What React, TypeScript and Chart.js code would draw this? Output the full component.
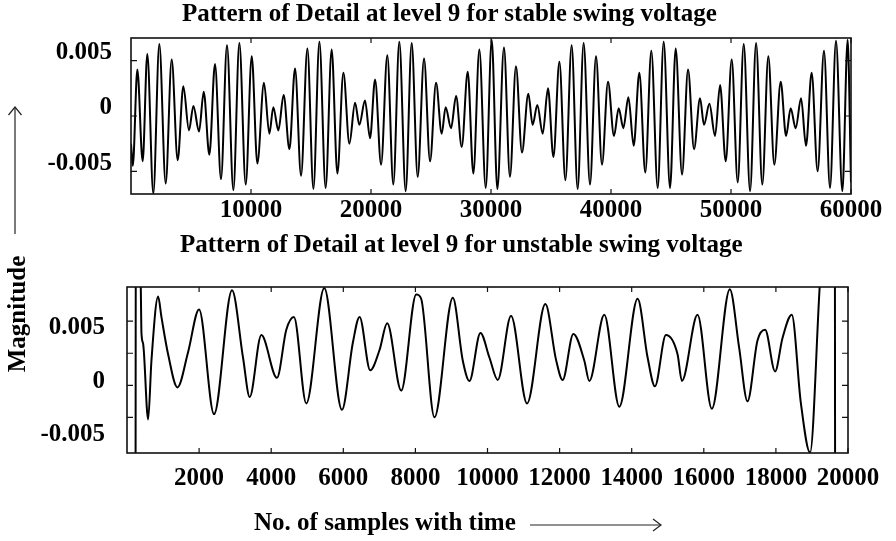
import React, { useEffect, useRef } from "react";
import { Chart, registerables } from "chart.js";

Chart.register(...registerables);

const FONT_FAMILY = '"Liberation Serif", "Times New Roman", Times, serif';

// ---- Stable swing voltage (detail level 9) ----
const stableSamples = [
  0, 150, 530, 970, 1360, 1860, 2360, 2890,
  3390, 3890, 4360, 4830, 5200, 5670, 6060, 6530,
  7000, 7500, 8000, 8530, 9030, 9560, 10060, 10530,
  11080, 11530, 11860, 12280, 12720, 13200, 13670, 14170,
  14700, 15200, 15700, 16220, 16720, 17200, 17700, 18200,
  18670, 19030, 19500, 19920, 20340, 20840, 21360, 21860,
  22360, 22890, 23390, 23890, 24420, 24920, 25420, 25890,
  26220, 26670, 27090, 27560, 28060, 28530, 29030, 29560,
  30060, 30530, 31080, 31580, 32080, 32580, 33110, 33470,
  33860, 34310, 34750, 35200, 35700, 36200, 36720, 37220,
  37720, 38250, 38750, 39250, 39750, 40250, 40640, 41030,
  41450, 41890, 42360, 42860, 43360, 43890, 44390, 44920,
  45390, 45920, 46420, 46920, 47420, 47750, 48200, 48670,
  49090, 49560, 50060, 50560, 51060, 51590, 52090, 52610,
  53110, 53610, 54140, 54590, 54970, 55390, 55840, 56250,
  56720, 57220, 57750, 58250, 58750, 59280, 59720, 60000,
];
const stableValues = [
  -0.0025, -0.0045, 0.0042, -0.0041, 0.0056, -0.007, 0.0065, -0.0061,
  0.0051, -0.004, 0.0027, -0.0013, 0.0009, -0.0014, 0.0022, -0.0035,
  0.0047, -0.0057, 0.0064, -0.0067, 0.0066, -0.0062, 0.0054, -0.0043,
  0.003, -0.0016, 0.0008, -0.0013, 0.0019, -0.003, 0.0043, -0.0054,
  0.0061, -0.0066, 0.0067, -0.0065, 0.006, -0.0052, 0.0039, -0.0025,
  0.0012, -0.0008, 0.0014, -0.002, 0.0033, -0.0044, 0.0055, -0.0062,
  0.0067, -0.0068, 0.0066, -0.0055, 0.0052, -0.0041, 0.003, -0.0016,
  0.0008, -0.0011, 0.0018, -0.0028, 0.004, -0.0052, 0.006, -0.0065,
  0.0069, -0.0066, 0.0062, -0.0055, 0.0045, -0.0033, 0.002, -0.0008,
  0.001, -0.0016, 0.0025, -0.0037, 0.0049, -0.0058, 0.0064, -0.0066,
  0.0066, -0.0062, 0.0054, -0.0044, 0.0031, -0.0018, 0.0007, -0.0011,
  0.0017, -0.0027, 0.0039, -0.0051, 0.0059, -0.0065, 0.0067, -0.0065,
  0.0061, -0.0053, 0.0042, -0.003, 0.0016, -0.0008, 0.0011, -0.0018,
  0.0028, -0.0041, 0.0051, -0.006, 0.0065, -0.0068, 0.0066, -0.0062,
  0.0054, -0.0044, 0.0031, -0.0018, 0.0007, -0.0011, 0.0016, -0.0027,
  0.0039, -0.005, 0.0059, -0.0065, 0.0068, -0.0068, 0.0069, -0.006,
];

// ---- Unstable swing voltage (detail level 9) ----
const unstableSamples = [
  0, 230, 250, 382, 401, 447, 586, 678, 863,
  955, 1140, 1399, 1694, 1999, 2415, 2913, 3218,
  3403, 3726, 4160, 4419, 4631, 4973, 5472, 5962,
  6266, 6451, 6747, 7005, 7218, 7606, 8022, 8160,
  8529, 9038, 9315, 9499, 9804, 10053, 10284, 10653,
  11097, 11605, 11900, 12085, 12381, 12686, 12824, 13240,
  13656, 14164, 14441, 14644, 14949, 15272, 15392, 15826,
  16223, 16722, 16981, 17212, 17489, 17701, 17978, 18182,
  18440, 18690, 18948, 19216, 19630, 19650, 20000,
];
const unstableValues = [
  -0.03, -0.03, 0.03, 0.0093, 0.0049, 0.0039, -0.0032, 0.0023, 0.0083,
  0.0064, 0.0029, -0.0002, 0.0031, 0.0071, -0.0027, 0.0089, 0.0026,
  -0.0011, 0.0047, 0.0007, 0.0052, 0.0064, -0.0017, 0.0091, -0.0023,
  0.004, 0.0064, 0.0014, 0.0033, 0.0058, -0.0005, 0.0085, 0.0081,
  -0.003, 0.0082, 0.0023, 0.0004, 0.0049, 0.0026, 0.0005, 0.0065,
  -0.0017, 0.0076, 0.0024, 0.0005, 0.0048, 0.0023, 0.0004, 0.0066,
  -0.002, 0.0081, 0.0026, -0.0001, 0.0047, 0.0029, 0.0004, 0.0066,
  -0.0022, 0.009, 0.0035, -0.0015, 0.0042, 0.0052, 0.0013, 0.0044,
  0.0066, -0.0016, -0.0063, 0.0093, 0.03, -0.03, -0.03,
];

// ---- Tick labels / marks ----
const stableXTicks = [10000, 20000, 30000, 40000, 50000, 60000];
const unstableXTicks = [2000, 4000, 6000, 8000, 10000, 12000, 14000, 16000, 18000, 20000];
const yTickLabels = [-0.005, 0, 0.005];
const stableYMarks = [-0.005, 0, 0.005];
const unstableYMarks = [-0.003, 0, 0.003, 0.006];

const titles = {
  stable: "Pattern of Detail at level 9 for stable swing voltage",
  unstable: "Pattern of Detail at level 9 for unstable swing voltage",
  yAxis: "Magnitude",
  xAxis: "No. of samples with time",
};

function framePlugin(xMarks: number[], yMarks: number[]) {
  return {
    id: "frameTicks",
    afterDatasetsDraw(chart: any) {
      const { ctx, chartArea: a } = chart;
      const sx = chart.scales.x;
      const sy = chart.scales.y;
      ctx.save();
      ctx.strokeStyle = "#111";
      ctx.lineWidth = 1.6;
      ctx.strokeRect(a.left, a.top, a.right - a.left, a.bottom - a.top);
      ctx.lineWidth = 1.2;
      ctx.beginPath();
      for (const v of xMarks) {
        const p = sx.getPixelForValue(v);
        ctx.moveTo(p, a.bottom);
        ctx.lineTo(p, a.bottom - 5);
        ctx.moveTo(p, a.top);
        ctx.lineTo(p, a.top + 5);
      }
      for (const v of yMarks) {
        const p = sy.getPixelForValue(v);
        ctx.moveTo(a.left, p);
        ctx.lineTo(a.left + 6, p);
        ctx.moveTo(a.right, p);
        ctx.lineTo(a.right - 6, p);
      }
      ctx.stroke();
      ctx.restore();
    },
  };
}

type ChartProps = {
  samples: number[];
  values: number[];
  xMin: number;
  xMax: number;
  yMin: number;
  yMax: number;
  xTicks: number[];
  xMarks: number[];
  yMarks: number[];
  top: number;
  width: number;
  height: number;
  padTop: number;
  padRight: number;
  yAxisWidth: number;
  xAxisHeight: number;
  xLabelPad: number;
  yLabelPad: number;
  yLabelOffset: number;
  xLabelOffset: number;
};

function SignalChart(p: ChartProps) {
  const ref = useRef<HTMLCanvasElement | null>(null);
  useEffect(() => {
    if (!ref.current) return;
    const tickFont = { family: FONT_FAMILY, size: 25, weight: "bold" as const };
    const chart = new Chart(ref.current, {
      type: "line",
      data: {
        datasets: [
          {
            data: p.samples.map((s, i) => ({ x: s, y: p.values[i] })),
            borderColor: "#000",
            borderWidth: 2,
            pointRadius: 0,
            cubicInterpolationMode: "monotone",
            fill: false,
          } as any,
        ],
      },
      options: {
        responsive: false,
        animation: false,
        devicePixelRatio: 1,
        layout: { padding: { top: p.padTop, right: p.padRight, left: 0, bottom: 0 } },
        plugins: {
          legend: { display: false },
          tooltip: { enabled: false },
          title: { display: false },
        },
        scales: {
          x: {
            type: "linear",
            min: p.xMin,
            max: p.xMax,
            grid: { display: false, drawTicks: false },
            border: { display: false },
            afterBuildTicks: (axis: any) => {
              axis.ticks = p.xTicks.map((v) => ({ value: v }));
            },
            afterFit: (axis: any) => {
              axis.height = p.xAxisHeight;
            },
            ticks: {
              autoSkip: false,
              maxRotation: 0,
              minRotation: 0,
              padding: p.xLabelPad,
              labelOffset: p.xLabelOffset,
              color: "#000",
              font: tickFont,
              callback: (v: any) => String(v),
            },
          },
          y: {
            type: "linear",
            min: p.yMin,
            max: p.yMax,
            grid: { display: false, drawTicks: false },
            border: { display: false },
            afterBuildTicks: (axis: any) => {
              axis.ticks = yTickLabels.map((v) => ({ value: v }));
            },
            afterFit: (axis: any) => {
              axis.width = p.yAxisWidth;
            },
            ticks: {
              autoSkip: false,
              padding: p.yLabelPad,
              labelOffset: p.yLabelOffset,
              color: "#000",
              font: tickFont,
              callback: (v: any) => String(v),
            },
          },
        },
      } as any,
      plugins: [framePlugin(p.xMarks, p.yMarks)],
    });
    return () => chart.destroy();
  }, []);
  return (
    <canvas
      ref={ref}
      width={p.width}
      height={p.height}
      style={{ position: "absolute", left: 0, top: p.top, width: p.width, height: p.height }}
    />
  );
}

export default function App() {
  const textBase: React.CSSProperties = {
    position: "absolute",
    whiteSpace: "nowrap",
    fontFamily: FONT_FAMILY,
    fontWeight: "bold",
    fontSize: 25,
    lineHeight: "25px",
    color: "#000",
  };
  return (
    <div
      style={{
        position: "fixed",
        left: 0,
        top: 0,
        width: 896,
        height: 541,
        background: "#fff",
        overflow: "hidden",
      }}
    >
      <SignalChart
        samples={stableSamples}
        values={stableValues}
        xMin={0}
        xMax={60000}
        yMin={-0.00705}
        yMax={0.00705}
        xTicks={stableXTicks}
        xMarks={stableXTicks}
        yMarks={stableYMarks}
        top={0}
        width={896}
        height={232}
        padTop={38}
        padRight={45}
        yAxisWidth={131}
        xAxisHeight={38}
        xLabelPad={2}
        yLabelPad={19}
        yLabelOffset={-8}
        xLabelOffset={0}
      />
      <SignalChart
        samples={unstableSamples}
        values={unstableValues}
        xMin={0}
        xMax={20000}
        yMin={-0.00634}
        yMax={0.0092}
        xTicks={unstableXTicks}
        xMarks={unstableXTicks}
        yMarks={unstableYMarks}
        top={250}
        width={896}
        height={260}
        padTop={29}
        padRight={48}
        yAxisWidth={127}
        xAxisHeight={57}
        xLabelPad={11}
        yLabelPad={22}
        yLabelOffset={-4}
        xLabelOffset={0}
      />
      <div style={{ ...textBase, left: 182, top: 0 }}>{titles.stable}</div>
      <div style={{ ...textBase, left: 180, top: 231 }}>{titles.unstable}</div>
      <div
        style={{
          ...textBase,
          left: 16,
          top: 314,
          transform: "translate(-50%, -50%) rotate(-90deg)",
        }}
      >
        {titles.yAxis}
      </div>
      <svg
        style={{ position: "absolute", left: 7, top: 104 }}
        width={16}
        height={132}
      >
        <line x1={8} y1={3} x2={8} y2={130} stroke="#222" strokeWidth={1.2} />
        <polyline points="1.5,11 8,3 14.5,11" fill="none" stroke="#222" strokeWidth={1.2} />
      </svg>
      <div style={{ ...textBase, left: 254, top: 509 }}>{titles.xAxis}</div>
      <svg
        style={{ position: "absolute", left: 530, top: 515 }}
        width={134}
        height={20}
      >
        <line x1={0} y1={10} x2={131} y2={10} stroke="#222" strokeWidth={1.2} />
        <polyline points="123,4 131,10 123,16" fill="none" stroke="#222" strokeWidth={1.2} />
      </svg>
    </div>
  );
}
